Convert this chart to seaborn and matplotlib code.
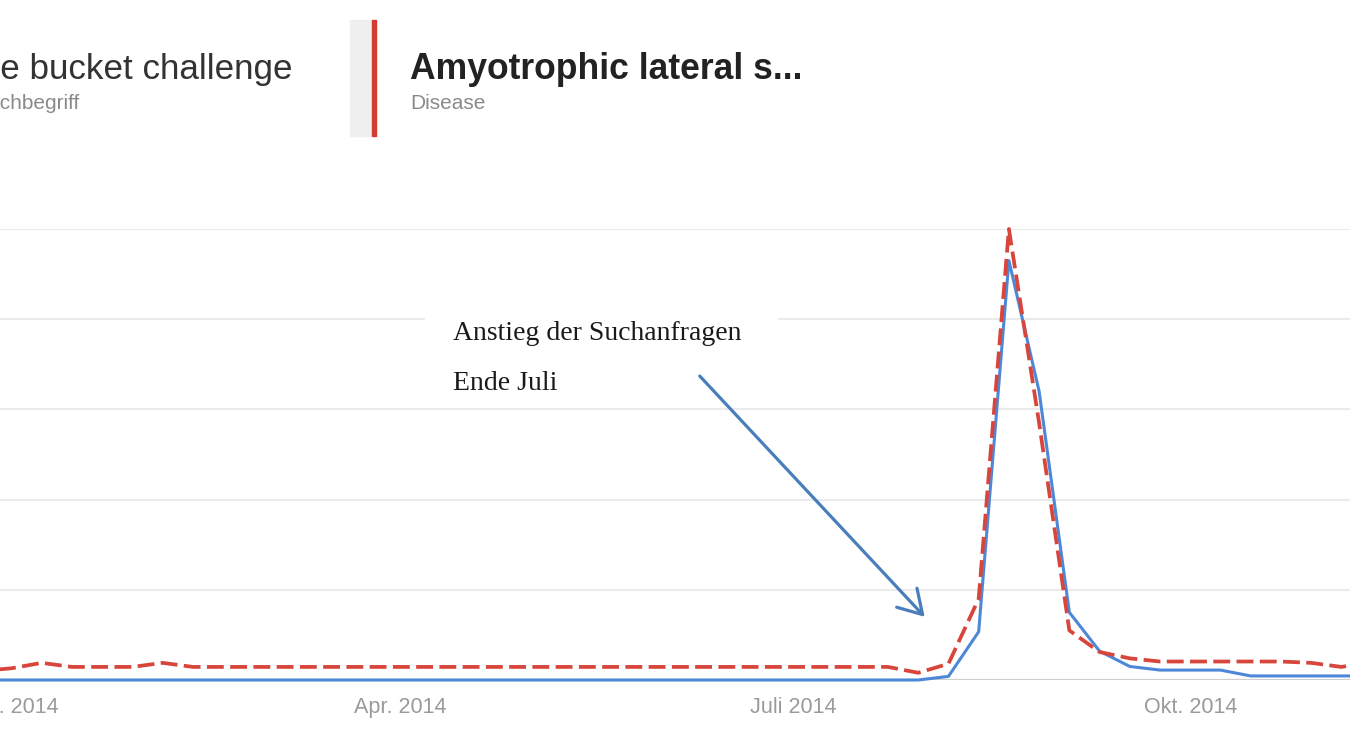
import numpy as np
import pandas as pd
import matplotlib
matplotlib.use("Agg")
import matplotlib.pyplot as plt
from matplotlib.patches import Rectangle
import seaborn as sns

# weekly points (mid-week), late Dec 2013 .. Nov 2014
WEEK_START = "2013-12-25"
N_WEEKS = 47

ice_bucket = [0.0] * 32 + [0.8, 10.7, 93.0, 64.0, 15.0, 6.4, 3.0, 2.2, 2.2, 2.2,
                           0.9, 0.9, 0.9, 0.9, 0.9]
als = ([2.0, 2.6, 3.8, 2.9, 2.9, 2.9, 3.8] + [2.9] * 24 +
       [1.6, 3.6, 18.0, 100.0, 57.0, 11.0, 6.2, 4.8, 4.1, 4.1, 4.1, 4.1, 4.1, 3.8, 2.9, 4.0])

tick_dates = ["2014-01-01", "2014-04-01", "2014-07-01", "2014-10-01"]
tick_labels = ["Jan. 2014", "Apr. 2014", "Juli 2014", "Okt. 2014"]
grid_values = [20, 40, 60, 80, 100]

term_left = "Ice bucket challenge"
term_left_sub = "Suchbegriff"
term_right = "Amyotrophic lateral s..."
term_right_sub = "Disease"
note_lines = ["Anstieg der Suchanfragen", "Ende Juli"]

BLUE = "#4d88d8"
RED = "#d8453b"
ARROW = "#4a7ebb"

W, H = 1350, 730


def fx(px):
    return px / W


def fy(py):
    return 1 - py / H


def main():
    sns.set_theme(style="white")
    plt.rcParams["font.family"] = ["Liberation Sans", "DejaVu Sans"]

    dates = pd.date_range(WEEK_START, periods=N_WEEKS, freq="7D")
    df = pd.DataFrame({"date": dates, "ice": ice_bucket, "als": als})

    fig = plt.figure(figsize=(13.5, 7.3), dpi=100)
    ax = fig.add_axes([0, fy(680), 1, (680 - 229) / H])

    for v in grid_values:
        ax.axhline(v, color="#ebebeb", lw=1.5, zorder=0)
    ax.axhline(0, color="#cfcfcf", lw=1.6, zorder=0)

    sns.lineplot(data=df, x="date", y="ice", color=BLUE, lw=2.2, ax=ax,
                 clip_on=False, zorder=3)
    sns.lineplot(data=df, x="date", y="als", color=RED, lw=2.7, ax=ax,
                 ls=(0, (4.5, 1.7)), zorder=4)
    ax.lines[-1].set_clip_box(None)

    start = pd.Timestamp("2014-01-01")
    ax.set_xlim(start - pd.Timedelta(days=2.66), start + pd.Timedelta(days=310))
    ax.set_ylim(0, 100)
    ax.set_xticks(pd.to_datetime(tick_dates))
    ax.set_xticklabels(tick_labels)
    ax.set_yticks([])
    ax.tick_params(axis="x", length=0, pad=12, labelsize=15.5, labelcolor="#9a9a9a")
    ax.set_xlabel("")
    ax.set_ylabel("")
    sns.despine(ax=ax, left=True, bottom=True)

    # arrow pointing at the start of the rise
    ax.annotate("", xy=(start + pd.Timedelta(days=211.5), 14.0),
                xytext=(start + pd.Timedelta(days=159.4), 67.4),
                arrowprops=dict(arrowstyle="->,head_length=1.66,head_width=1.0",
                                color=ARROW, lw=2.3, shrinkA=0, shrinkB=0,
                                mutation_scale=10),
                zorder=5)

    # white box behind the note
    fig.patches.append(Rectangle((fx(425), fy(352)), fx(777 - 425), (352 - 305) / H,
                                 transform=fig.transFigure, color="white", zorder=2))
    fig.text(fx(453), fy(340), note_lines[0], family=["Liberation Serif"], size=20,
             color="#1a1a1a", zorder=3)
    fig.text(fx(453), fy(390), note_lines[1], family=["Liberation Serif"], size=20,
             color="#1a1a1a", zorder=3)

    # header
    fig.text(fx(-27), fy(79), term_left, size=25.2, color="#333333")
    fig.text(fx(-26), fy(109), term_left_sub, size=15, color="#8a8a8a")
    fig.patches.append(Rectangle((fx(350), fy(136)), fx(22), (136 - 20) / H,
                                 transform=fig.transFigure, color="#efefef"))
    fig.patches.append(Rectangle((fx(372), fy(136)), fx(4), (136 - 20) / H,
                                 transform=fig.transFigure, color="#d33a32"))
    fig.text(fx(410), fy(79), term_right, size=25.6, weight="bold", color="#222222")
    fig.text(fx(410), fy(109), term_right_sub, size=15, color="#8a8a8a")

    fig.savefig("out.png", dpi=100)


if __name__ == "__main__":
    main()
